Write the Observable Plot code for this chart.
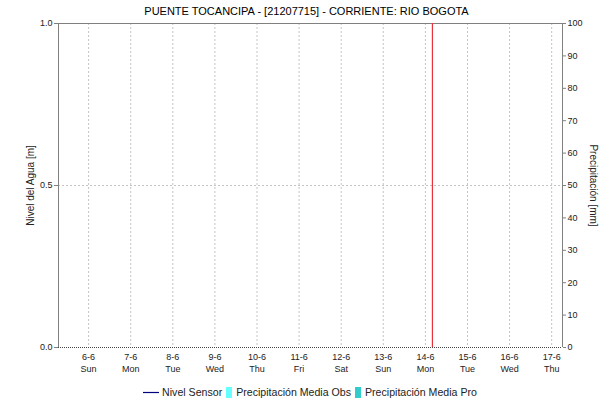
<!DOCTYPE html>
<html>
<head>
<meta charset="utf-8">
<script src="https://cdn.jsdelivr.net/npm/d3@7"></script>
<script src="https://cdn.jsdelivr.net/npm/@observablehq/plot@0.6"></script>
<style>
  html, body { margin: 0; padding: 0; background: #fff; }
  body { width: 613px; height: 403px; overflow: hidden; font-family: "Liberation Sans", Arial, sans-serif; color: #000; }
  #title { height: 18px; line-height: 22px; font-size: 11px; text-align: center; }
  #legend { display: flex; justify-content: center; align-items: center; font-size: 10.6px; height: 20px; margin-top: 2px; padding-left: 10px; color: #222; }
  .item { display: inline-flex; align-items: center; margin-right: 3px; }
</style>
</head>
<body>
<div id="title">PUENTE TOCANCIPA - [21207715] - CORRIENTE: RIO BOGOTA</div>
<div id="chart"></div>
<div id="legend"></div>
<script>
// ---- data ----
const titleText = "PUENTE TOCANCIPA - [21207715] - CORRIENTE: RIO BOGOTA";
const dayDates = ["2021-06-06","2021-06-07","2021-06-08","2021-06-09","2021-06-10","2021-06-11","2021-06-12","2021-06-13","2021-06-14","2021-06-15","2021-06-16","2021-06-17"];
const dayLabels = ["6-6","7-6","8-6","9-6","10-6","11-6","12-6","13-6","14-6","15-6","16-6","17-6"];
const weekdayLabels = ["Sun","Mon","Tue","Wed","Thu","Fri","Sat","Sun","Mon","Tue","Wed","Thu"];
const xStart = "2021-06-05T06:50:00Z";
const xEnd = "2021-06-17T06:10:00Z";
const nivelTicks = [0, 0.5, 1.0];
const precipTicks = [0, 10, 20, 30, 40, 50, 60, 70, 80, 90, 100];
const nivelMax = 1.0;
const precipMax = 100;
const markerTimes = ["2021-06-14T04:00:00Z"];
// series (no values recorded in the window)
const nivelSensor = [];          // {t, v}
const precipObs = [];            // {t, v}
const precipPro = [];            // {t, v}
const legendNames = ["Nivel Sensor", "Precipitación Media Obs", "Precipitación Media Pro"];
const legendColors = ["#000080", "#66ffff", "#33cccc"];

// ---- build ----
const parse = s => new Date(s.length === 10 ? s + "T00:00:00Z" : s);
const ticks = dayDates.map(parse);
const labelOf = new Map(ticks.map((d, i) => [+d, dayLabels[i] + "\n" + weekdayLabels[i]]));
const x0 = parse(xStart), x1 = parse(xEnd);
const toY = p => p * nivelMax / precipMax;
const grey = "#808080";

const chart = Plot.plot({
  width: 613,
  height: 362,
  marginLeft: 58,
  marginRight: 51,
  marginTop: 5,
  marginBottom: 33,
  style: { fontFamily: "Liberation Sans, Arial, sans-serif", fontSize: "9px", color: "#222", background: "#fff" },
  x: { type: "utc", domain: [x0, x1] },
  y: { domain: [0, nivelMax] },
  marks: [
    Plot.ruleX(ticks, { stroke: "#c4c4c4", strokeDasharray: "2,2" }),
    Plot.ruleY([0.5], { stroke: "#c4c4c4", strokeDasharray: "2,2" }),
    Plot.rectY(precipObs, { x1: d => parse(d.t), x2: d => new Date(+parse(d.t) + 36e5), y: d => toY(d.v), fill: legendColors[1] }),
    Plot.rectY(precipPro, { x1: d => parse(d.t), x2: d => new Date(+parse(d.t) + 36e5), y: d => toY(d.v), fill: legendColors[2] }),
    Plot.lineY(nivelSensor, { x: d => parse(d.t), y: "v", stroke: legendColors[0] }),
    Plot.ruleY([0], { stroke: "#444", strokeDasharray: "1,1" }),
    Plot.ruleY([nivelMax], { stroke: grey }),
    Plot.ruleX([x0, x1], { stroke: grey }),
    Plot.ruleX(markerTimes.map(parse), { stroke: "#e8333a", strokeWidth: 1.2 }),
    Plot.axisX(ticks, { tickSize: 0, tickPadding: 4, tickFormat: d => labelOf.get(+d), lineHeight: 1.33, fill: "#222", fontSize: 9 }),
    Plot.axisY(nivelTicks, { anchor: "left", tickSize: 4, tickPadding: 2, stroke: grey, tickFormat: d3.format(".1f"), label: null, fill: "#222" }),
    Plot.axisY(precipTicks.map(toY), { anchor: "right", tickSize: 3, tickPadding: 2, stroke: grey, tickFormat: d => String(Math.round(d * precipMax / nivelMax)), label: null, fill: "#222" }),
    Plot.text(["Nivel del Agua [m]"], { frameAnchor: "left", textAnchor: "middle", rotate: -90, dx: -28, fontSize: 10, fill: "#222" }),
    Plot.text(["Precipitación [mm]"], { frameAnchor: "right", textAnchor: "middle", rotate: 90, dx: 31, fontSize: 10, fill: "#222" })
  ]
});
document.getElementById("chart").appendChild(chart);

// legend
const leg = document.getElementById("legend");
legendNames.forEach((name, i) => {
  const item = document.createElement("span");
  item.className = "item";
  const sw = document.createElementNS("http://www.w3.org/2000/svg", "svg");
  if (i === 0) {
    sw.setAttribute("width", 17); sw.setAttribute("height", 11);
    sw.innerHTML = `<line x1="0" x2="16" y1="5.5" y2="5.5" stroke="${legendColors[i]}" stroke-width="1.2"/>`;
  } else {
    sw.setAttribute("width", 9); sw.setAttribute("height", 11);
    sw.innerHTML = `<rect x="1" y="0" width="6" height="11" fill="${legendColors[i]}"/>`;
  }
  sw.style.marginRight = "2px";
  item.appendChild(sw);
  const t = document.createElement("span");
  t.textContent = name;
  item.appendChild(t);
  leg.appendChild(item);
});
</script>
</body>
</html>
